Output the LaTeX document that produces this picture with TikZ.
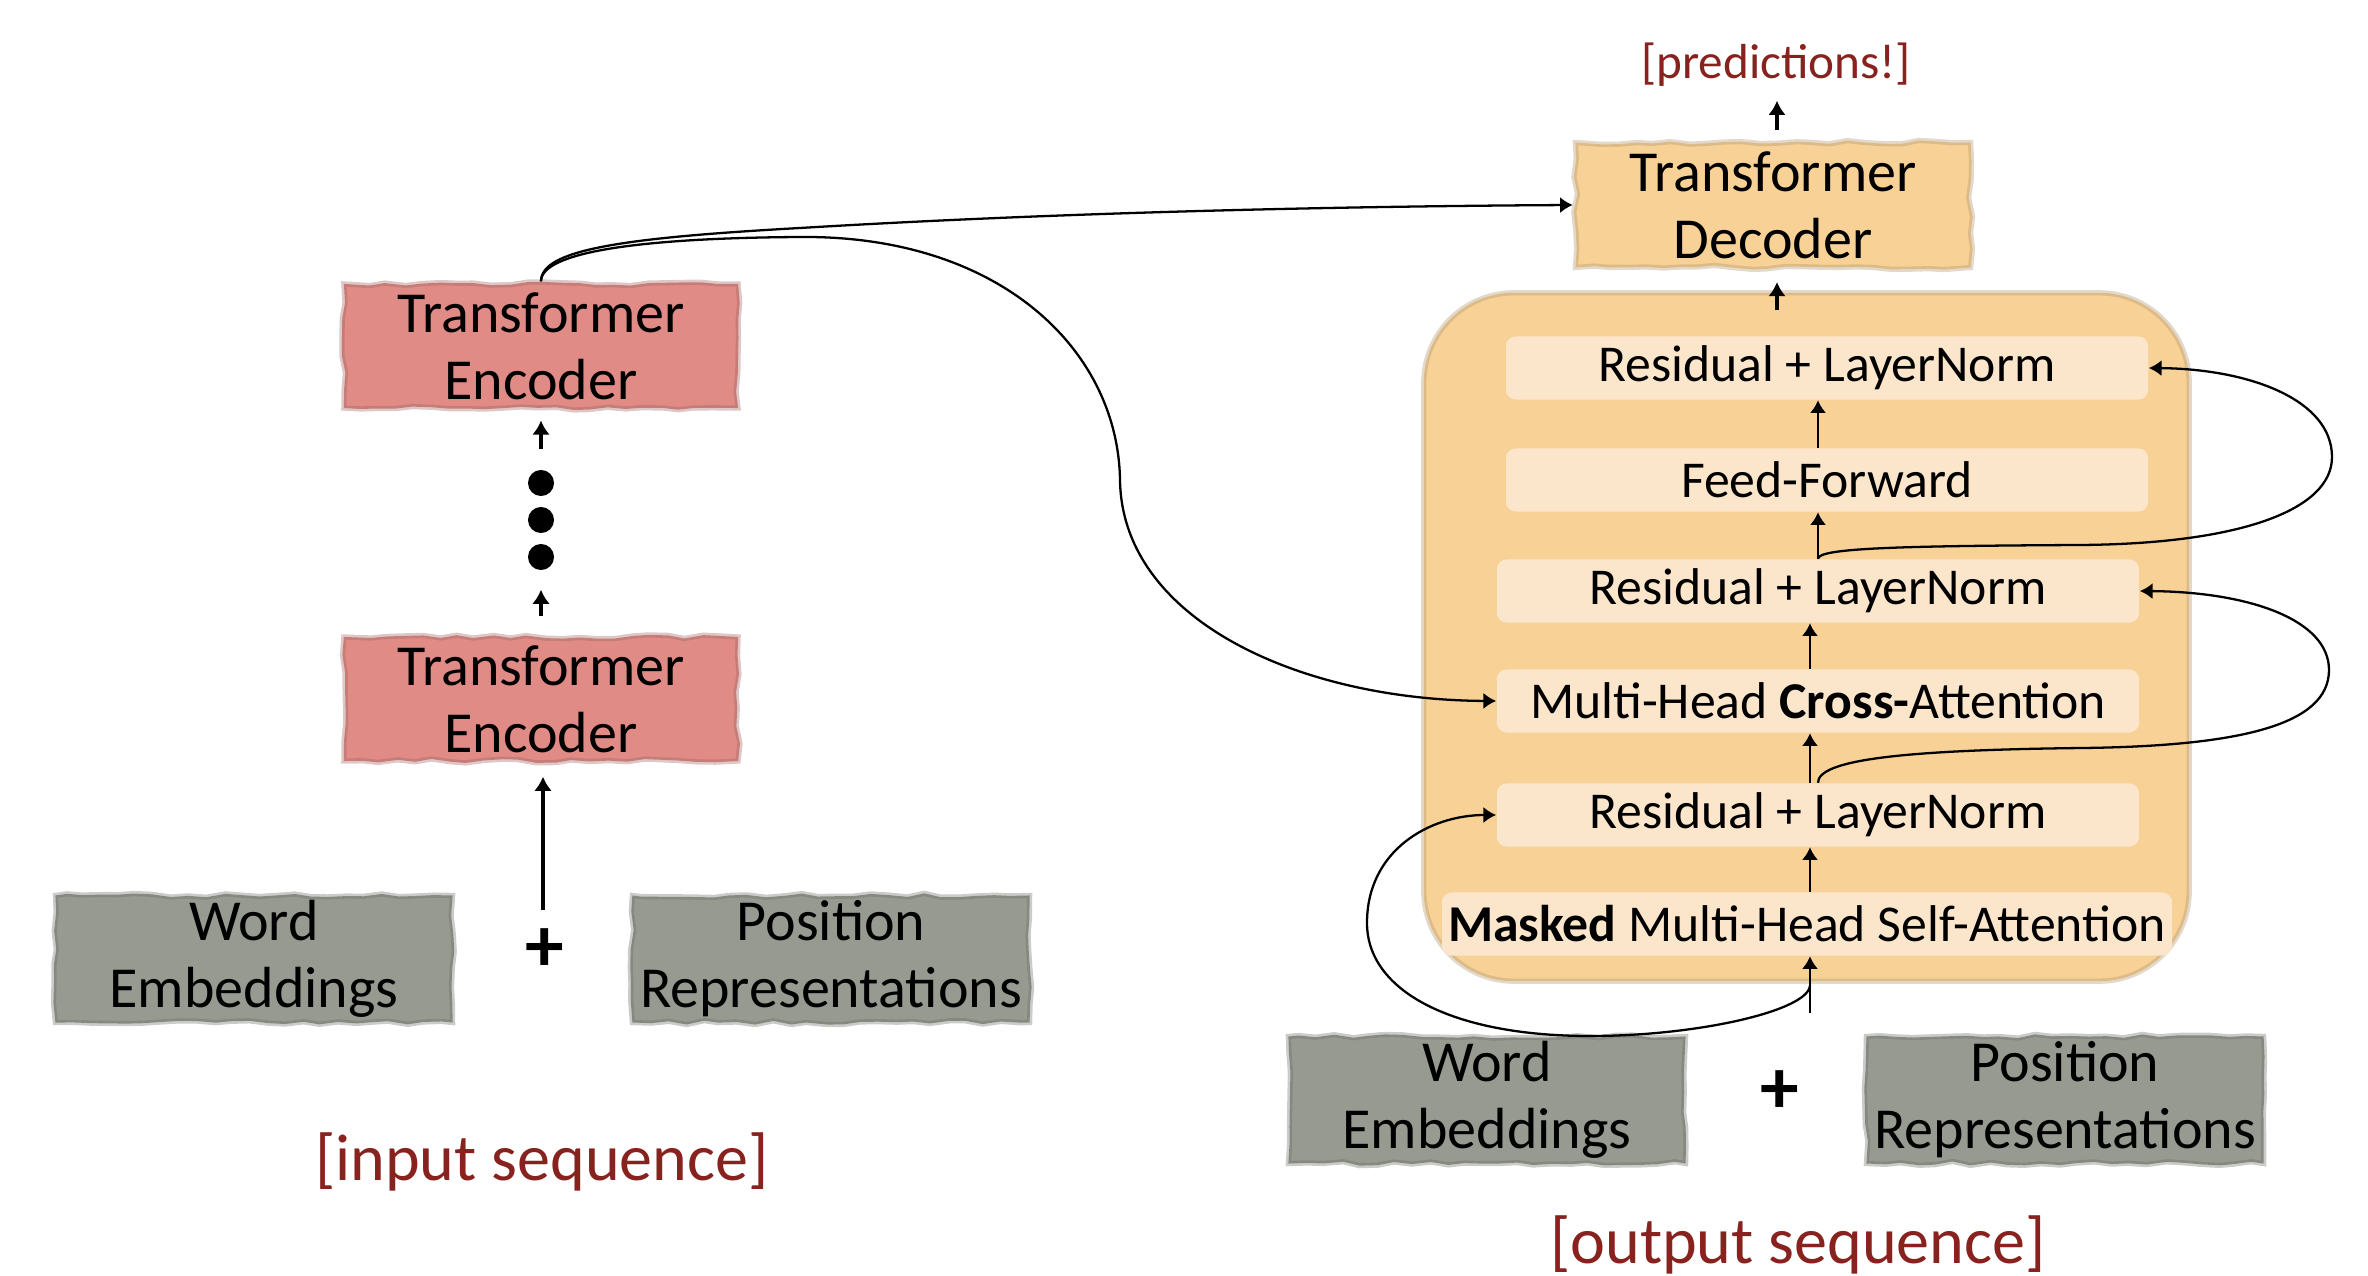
\documentclass[tikz,border=0pt]{standalone}
\usepackage{fontspec}
\setmainfont{Carlito}
\usetikzlibrary{arrows.meta,decorations.pathmorphing}

\definecolor{encred}{RGB}{224,139,134}
\definecolor{embgray}{RGB}{150,154,144}
\definecolor{decorange}{RGB}{247,209,150}
\definecolor{sublight}{RGB}{251,230,204}
\definecolor{seqred}{RGB}{136,34,30}

\tikzset{
  torn/.style={decorate,decoration={random steps,segment length=5pt,amplitude=0.6pt},
    line width=1.5pt,draw opacity=0.35,inner sep=0pt,align=center,
    font=\fontsize{16.5}{19}\selectfont},
  encbox/.style={torn,fill=encred,draw=encred!70!black,minimum width=3.94cm,minimum height=1.24cm},
  embbox/.style={torn,fill=embgray,draw=embgray!70!black,minimum width=3.97cm,minimum height=1.27cm},
  decbox/.style={torn,fill=decorange,draw=decorange!70!black,minimum width=3.95cm,minimum height=1.25cm},
  declayer/.style={fill=decorange,draw=decorange!70!black,draw opacity=0.35,line width=1.5pt,
    rounded corners=0.9cm,minimum width=7.65cm,minimum height=6.88cm},
  sublayer/.style={fill=sublight,rounded corners=2.8pt,minimum width=6.42cm,minimum height=0.63cm,
    inner sep=0pt,font=\fontsize{14.7}{17}\selectfont},
  stackdot/.style={circle,fill=black,minimum size=0.26cm,inner sep=0pt},
  plussign/.style={font=\fontsize{22}{24}\selectfont\bfseries,inner sep=0pt},
  seqlabel/.style={text=seqred,font=\fontsize{18.8}{22}\selectfont,inner sep=0pt},
  thickarr/.style={-{Latex[length=4pt,width=5pt]},line width=1.3pt},
  thinarr/.style={-{Latex[length=3.6pt,width=4.6pt]},line width=0.7pt},
  resline/.style={-{Latex[length=3.6pt,width=4.6pt]},line width=0.65pt},
}

\begin{document}
\begin{tikzpicture}[x=0.01cm,y=-0.01cm]
\pgfmathsetseed{11}
\useasboundingbox (0,0) rectangle (2368,1276);
% Encoder side
\node[embbox] (wordL) at (254,959) {Word\\Embeddings};
\node[embbox] (posL) at (831,959) {Position\\Representations};
\node[plussign] (plusL) at (545,950) {+};
\node[encbox] (enc1) at (541,699) {Transformer\\Encoder};
\node[stackdot] (d3) at (541,557) {};
\node[stackdot] (d2) at (541,520) {};
\node[stackdot] (d1) at (541,483) {};
\node[encbox] (enc2) at (541,346) {Transformer\\Encoder};
\node[seqlabel] (inseq) at (542,1162) {[input sequence]};
\coordinate (sumL) at (543,910);
\draw[thickarr,shorten >=3.7pt] (sumL) -- (sumL |- enc1.south);
\draw[thickarr,shorten <=5.1pt,shorten >=5.4pt] (enc1.north) -- (d3.south);
\draw[thickarr,shorten <=5.7pt,shorten >=2.8pt] (d1.north) -- (enc2.south);
% Decoder side
\node[declayer] (block) at (1806.5,637) {};
\node[sublayer,minimum width=7.3cm] (masked) at (1807,924) {\textbf{Masked} Multi-Head Self-Attention};
\node[sublayer] (rn1) at (1818,815) {Residual + LayerNorm};
\node[sublayer] (cross) at (1818,701) {Multi-Head \textbf{Cross-}Attention};
\node[sublayer] (rn2) at (1818,591) {Residual + LayerNorm};
\node[sublayer] (ff) at (1827,480) {Feed-Forward};
\node[sublayer] (rn3) at (1827,368) {Residual + LayerNorm};
\node[decbox] (dec) at (1773,205) {Transformer\\Decoder};
\node[seqlabel,font=\fontsize{14}{16}\selectfont] (pred) at (1776,65) {[predictions!]};
\node[embbox] (wordR) at (1487,1100) {Word\\Embeddings};
\node[embbox] (posR) at (2065,1100) {Position\\Representations};
\node[plussign] (plusR) at (1780,1092) {+};
\node[seqlabel] (outseq) at (1798,1245) {[output sequence]};
% Sublayer stack
\coordinate (sumR) at (1810,1013);
\draw[thinarr] (sumR) -- (sumR |- masked.south);
\draw[thinarr] (masked.north -| sumR) -- (rn1.south -| sumR);
\draw[thinarr] (rn1.north -| sumR) -- (cross.south -| sumR);
\draw[thinarr] (cross.north -| sumR) -- (rn2.south -| sumR);
\draw[thinarr] (rn2.north) -- (ff.south -| rn2.north);
\draw[thinarr] (ff.north -| rn2.north) -- (rn3.south -| rn2.north);
\coordinate (decin) at (1777,310);
\draw[thickarr,line width=1.1pt,shorten >=3.4pt] (decin) -- (decin |- dec.south);
\draw[thickarr,line width=1.1pt,shorten <=2.8pt,shorten >=3.8pt] (dec.north -| decin) -- (pred.south -| decin);
% Residual connections
\coordinate (res1) at (1810,985);
\draw[resline] (res1) .. controls (1810,1010) and (1700,1036) .. (1590,1036)
  .. controls (1450,1036) and (1367,990) .. (1367,923)
  .. controls (1367,850) and (1430,815) .. (rn1.west);
\draw[resline] (rn1.north) .. controls (1818,760) and (1900,750) .. (2083,748)
  .. controls (2240,746) and (2329,725) .. (2329,670)
  .. controls (2329,620) and (2250,592) .. (rn2.east);
\draw[resline] (rn2.north) .. controls (1818,548) and (1900,546) .. (2079,545)
  .. controls (2240,544) and (2332,510) .. (2332,457)
  .. controls (2332,400) and (2250,369) .. (rn3.east);
% Encoder output
\draw[resline] (enc2.north) .. controls (541,250) and (620,238) .. (800,228)
  .. controls (1100,210) and (1400,206) .. (dec.west);
\draw[resline] (enc2.north) .. controls (541,252) and (640,238) .. (800,237)
  .. controls (1000,235) and (1118,350) .. (1120,480)
  .. controls (1122,620) and (1300,700) .. (cross.west);
\end{tikzpicture}
\end{document}
